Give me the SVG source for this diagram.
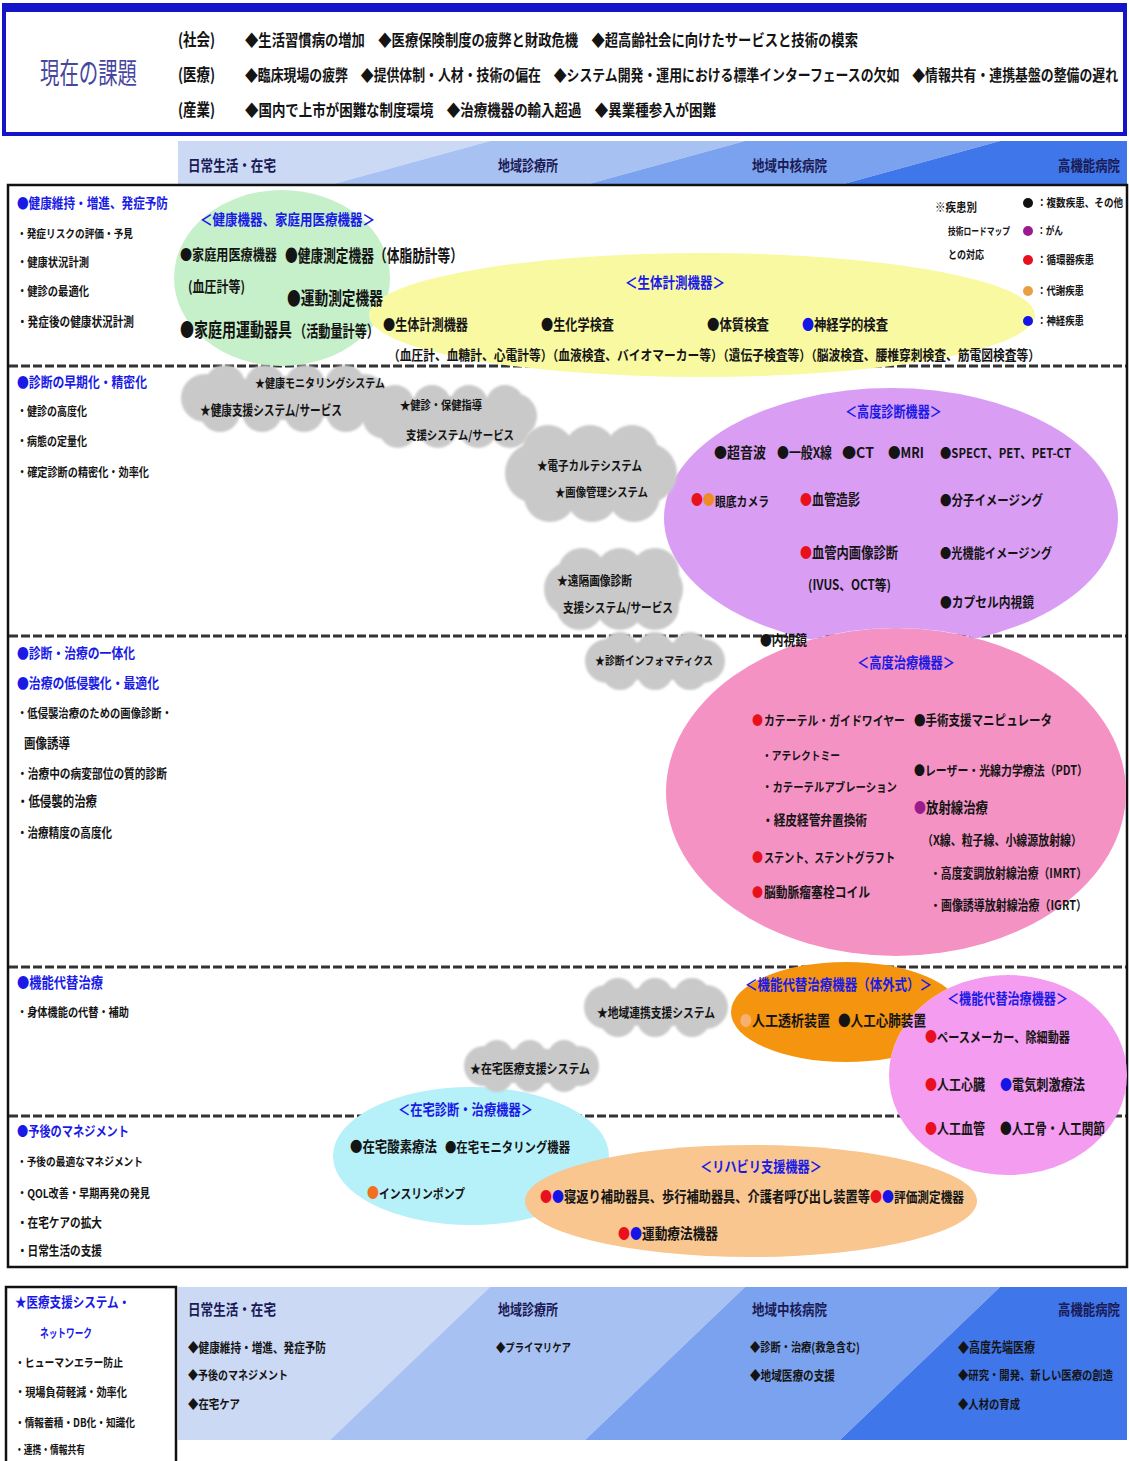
<svg xmlns="http://www.w3.org/2000/svg" width="1129" height="1461" viewBox="0 0 1129 1461">
<style>
text{font-family:"Noto Sans CJK JP","Noto Sans",sans-serif;font-weight:700;fill:#141414;transform-box:fill-box;transform-origin:50% 80%;transform:scaleY(1.2)}
.bl{fill:#1a1ae6}
.hd{fill:#1a1a55;font-size:12.5px}
.r{fill:#e8101c}
.pu{fill:#9b1b8e}
.bu{fill:#1414e6}
.or{fill:#f08c28}
.dash{stroke:#333;stroke-width:3;stroke-dasharray:9 3;fill:none}
.cloud{fill:#c9c9c9;filter:url(#soft)}
.big{transform:scaleY(1.35)}
</style>
<defs>
<filter id="soft" x="-10%" y="-10%" width="120%" height="120%"><feGaussianBlur stdDeviation="1.2"/></filter>
<clipPath id="cg"><path clip-rule="evenodd" d="M0 0H1129V1461H0Z M369 315a333 62 0 1 0 666 0a333 62 0 1 0 -666 0Z"/></clipPath>
<clipPath id="cp"><path clip-rule="evenodd" d="M0 0H1129V1461H0Z M666 792a230 164 0 1 0 460 0a230 164 0 1 0 -460 0Z"/></clipPath>
<clipPath id="co"><path clip-rule="evenodd" d="M0 0H1129V1461H0Z M889 1075a119 100 0 1 0 238 0a119 100 0 1 0 -238 0Z"/></clipPath>
</defs>
<rect width="1129" height="1461" fill="#fff"/>

<g id="issues">
<rect x="4" y="7" width="1121" height="127" fill="#fff" stroke="#1414c8" stroke-width="4"/>
<rect x="2" y="3" width="1125" height="9" fill="#1414c8"/>
<text x="40" y="84" style="font-size:19.4px;font-weight:400;fill:#4646a0;transform:scaleY(1.5)" textLength="97" lengthAdjust="spacingAndGlyphs">現在の課題</text>
<text x="178" y="46" style="font-size:13.9px" textLength="37" lengthAdjust="spacingAndGlyphs">(社会)</text>
<text x="178" y="81" style="font-size:13.9px" textLength="37" lengthAdjust="spacingAndGlyphs">(医療)</text>
<text x="178" y="116" style="font-size:13.9px" textLength="37" lengthAdjust="spacingAndGlyphs">(産業)</text>
<text x="245" y="46" style="font-size:13.3px" textLength="613" lengthAdjust="spacingAndGlyphs">◆生活習慣病の増加　◆医療保険制度の疲弊と財政危機　◆超高齢社会に向けたサービスと技術の模索</text>
<text x="245" y="81" style="font-size:12.8px" textLength="873" lengthAdjust="spacingAndGlyphs">◆臨床現場の疲弊　◆提供体制・人材・技術の偏在　◆システム開発・運用における標準インターフェースの欠如　◆情報共有・連携基盤の整備の遅れ</text>
<text x="245" y="116" style="font-size:13.3px" textLength="471" lengthAdjust="spacingAndGlyphs">◆国内で上市が困難な制度環境　◆治療機器の輸入超過　◆異業種参入が困難</text>
</g>

<g id="header-top">
<polygon points="178,141 490,141 330,185 178,185" fill="#cbd9f5"/>
<polygon points="490,141 745,141 585,185 330,185" fill="#a8c1f3"/>
<polygon points="745,141 1000,141 840,185 585,185" fill="#7ba2ef"/>
<polygon points="1000,141 1127,141 1127,185 840,185" fill="#3f76ea"/>
<text class="hd" x="188" y="171" textLength="88" lengthAdjust="spacingAndGlyphs">日常生活・在宅</text>
<text class="hd" x="498" y="171" textLength="60" lengthAdjust="spacingAndGlyphs">地域診療所</text>
<text class="hd" x="752" y="171" textLength="75" lengthAdjust="spacingAndGlyphs">地域中核病院</text>
<text class="hd" x="1058" y="171" textLength="62" lengthAdjust="spacingAndGlyphs">高機能病院</text>
</g>

<g id="frame">
<rect x="8" y="185" width="1119" height="1082" fill="#fff" stroke="#111" stroke-width="2.5"/>
<line class="dash" x1="9" y1="366" x2="1126" y2="366"/>
<line class="dash" x1="9" y1="636" x2="1126" y2="636"/>
<line class="dash" x1="9" y1="967" x2="1126" y2="967"/>
<line class="dash" x1="9" y1="1116" x2="1126" y2="1116"/>
</g>

<g id="goals">
<text class="bl" x="17" y="208" style="font-size:11.6px" textLength="151" lengthAdjust="spacingAndGlyphs">●健康維持・増進、発症予防</text>
<text x="17" y="237.5" style="font-size:9.8px" textLength="116" lengthAdjust="spacingAndGlyphs">・発症リスクの評価・予見</text>
<text x="17" y="266.5" style="font-size:10.3px" textLength="72" lengthAdjust="spacingAndGlyphs">・健康状況計測</text>
<text x="17" y="295.5" style="font-size:10.3px" textLength="72" lengthAdjust="spacingAndGlyphs">・健診の最適化</text>
<text x="17" y="325.5" style="font-size:10.6px" textLength="117" lengthAdjust="spacingAndGlyphs">・発症後の健康状況計測</text>
<text class="bl" x="17" y="387" style="font-size:11.8px" textLength="130" lengthAdjust="spacingAndGlyphs">●診断の早期化・精密化</text>
<text x="17" y="415.5" style="font-size:10px" textLength="70" lengthAdjust="spacingAndGlyphs">・健診の高度化</text>
<text x="17" y="445.5" style="font-size:10px" textLength="70" lengthAdjust="spacingAndGlyphs">・病態の定量化</text>
<text x="17" y="476.5" style="font-size:10.2px" textLength="132" lengthAdjust="spacingAndGlyphs">・確定診断の精密化・効率化</text>
<text class="bl" x="17" y="658" style="font-size:11.8px" textLength="118" lengthAdjust="spacingAndGlyphs">●診断・治療の一体化</text>
<text class="bl" x="17" y="688" style="font-size:11.8px" textLength="142" lengthAdjust="spacingAndGlyphs">●治療の低侵襲化・最適化</text>
<text x="17" y="717.5" style="font-size:10.3px" textLength="155" lengthAdjust="spacingAndGlyphs">・低侵襲治療のための画像診断・</text>
<text x="24" y="747.5" style="font-size:11px" textLength="46" lengthAdjust="spacingAndGlyphs">画像誘導</text>
<text x="17" y="777.5" style="font-size:10.7px" textLength="150" lengthAdjust="spacingAndGlyphs">・治療中の病変部位の質的診断</text>
<text x="17" y="806.5" style="font-size:11.4px" textLength="80" lengthAdjust="spacingAndGlyphs">・低侵襲的治療</text>
<text x="17" y="836.5" style="font-size:10.5px" textLength="95" lengthAdjust="spacingAndGlyphs">・治療精度の高度化</text>
<text class="bl" x="17" y="988" style="font-size:12px" textLength="86" lengthAdjust="spacingAndGlyphs">●機能代替治療</text>
<text x="17" y="1016.5" style="font-size:10.2px" textLength="112" lengthAdjust="spacingAndGlyphs">・身体機能の代替・補助</text>
<text class="bl" x="17" y="1136" style="font-size:11.2px" textLength="112" lengthAdjust="spacingAndGlyphs">●予後のマネジメント</text>
<text x="17" y="1166.5" style="font-size:9.7px" textLength="126" lengthAdjust="spacingAndGlyphs">・予後の最適なマネジメント</text>
<text x="17" y="1197.5" style="font-size:10.2px" textLength="133" lengthAdjust="spacingAndGlyphs">・QOL改善・早期再発の発見</text>
<text x="17" y="1226.5" style="font-size:10.6px" textLength="85" lengthAdjust="spacingAndGlyphs">・在宅ケアの拡大</text>
<text x="17" y="1254.5" style="font-size:10.6px" textLength="85" lengthAdjust="spacingAndGlyphs">・日常生活の支援</text>
</g>

<g id="node-bio">
<ellipse cx="702" cy="315" rx="333" ry="62" fill="#f9f9a2"/>
<text class="bl" x="625" y="288.5" style="font-size:12.5px" textLength="100" lengthAdjust="spacingAndGlyphs">＜生体計測機器＞</text>
<text x="383" y="330.5" style="font-size:12.1px" textLength="85" lengthAdjust="spacingAndGlyphs">●生体計測機器</text>
<text x="541" y="330.5" style="font-size:12.2px" textLength="73" lengthAdjust="spacingAndGlyphs">●生化学検査</text>
<text x="707" y="330.5" style="font-size:12.4px" textLength="62" lengthAdjust="spacingAndGlyphs">●体質検査</text>
<text class="bu" x="802" y="330.5" style="font-size:12.3px" textLength="12" lengthAdjust="spacingAndGlyphs">●</text>
<text x="814" y="330.5" style="font-size:12.3px" textLength="74" lengthAdjust="spacingAndGlyphs">神経学的検査</text>
<text x="388" y="360" style="font-size:11.4px" textLength="652" lengthAdjust="spacingAndGlyphs">（血圧計、血糖計、心電計等）（血液検査、バイオマーカー等）（遺伝子検査等）（脳波検査、腰椎穿刺検査、筋電図検査等）</text>
</g>

<g id="node-home-health">
<ellipse cx="282" cy="278" rx="108" ry="88" fill="#c6f0c9" clip-path="url(#cg)"/>
<text class="bl" x="200" y="225.5" style="font-size:12.5px" textLength="175" lengthAdjust="spacingAndGlyphs">＜健康機器、家庭用医療機器＞</text>
<text x="180" y="260" style="font-size:12.1px" textLength="97" lengthAdjust="spacingAndGlyphs">●家庭用医療機器</text>
<text class="big" x="285" y="261.5" style="font-size:12.7px" textLength="178" lengthAdjust="spacingAndGlyphs">●健康測定機器（体脂肪計等）</text>
<text x="188" y="292" style="font-size:12px" textLength="57" lengthAdjust="spacingAndGlyphs">(血圧計等)</text>
<text class="big" x="287" y="305.5" style="font-size:13.7px" textLength="96" lengthAdjust="spacingAndGlyphs">●運動測定機器</text>
<text class="big" x="180" y="337" style="font-size:14px" textLength="112" lengthAdjust="spacingAndGlyphs">●家庭用運動器具</text>
<text class="big" x="294" y="336.5" style="font-size:12.1px" textLength="85" lengthAdjust="spacingAndGlyphs">（活動量計等）</text>
</g>

<g id="legend">
<text x="935" y="211.5" style="font-size:10px" textLength="42" lengthAdjust="spacingAndGlyphs">※疾患別</text>
<text x="948" y="235.5" style="font-size:8.5px" textLength="62" lengthAdjust="spacingAndGlyphs">技術ロードマップ</text>
<text x="948" y="259.5" style="font-size:9.5px" textLength="36" lengthAdjust="spacingAndGlyphs">との対応</text>
<circle cx="1028" cy="203" r="5" fill="#111"/>
<circle cx="1028" cy="231" r="5" fill="#9b1b8e"/>
<circle cx="1028" cy="260" r="5" fill="#e8101c"/>
<circle cx="1028" cy="291" r="5" fill="#e8a040"/>
<circle cx="1028" cy="321" r="5" fill="#1414e6"/>
<text x="1037" y="207.5" style="font-size:9.6px" textLength="86" lengthAdjust="spacingAndGlyphs">：複数疾患、その他</text>
<text x="1037" y="235.5" style="font-size:9px" textLength="26" lengthAdjust="spacingAndGlyphs">：がん</text>
<text x="1037" y="264.5" style="font-size:9.6px" textLength="57" lengthAdjust="spacingAndGlyphs">：循環器疾患</text>
<text x="1037" y="295.5" style="font-size:9.6px" textLength="47" lengthAdjust="spacingAndGlyphs">：代謝疾患</text>
<text x="1037" y="325.5" style="font-size:9.6px" textLength="47" lengthAdjust="spacingAndGlyphs">：神経疾患</text>
</g>

<g id="node-treat">
<ellipse cx="896" cy="792" rx="230" ry="164" fill="#f592c4"/>
<text class="bl" x="857" y="668" style="font-size:12.2px" textLength="98" lengthAdjust="spacingAndGlyphs">＜高度治療機器＞</text>
<text class="r" x="752" y="725" style="font-size:11px" textLength="11" lengthAdjust="spacingAndGlyphs">●</text>
<text x="764" y="725" style="font-size:10.8px" textLength="141" lengthAdjust="spacingAndGlyphs">カテーテル・ガイドワイヤー</text>
<text x="762" y="759.5" style="font-size:9.8px" textLength="78" lengthAdjust="spacingAndGlyphs">・アテレクトミー</text>
<text x="762" y="791.5" style="font-size:10.4px" textLength="135" lengthAdjust="spacingAndGlyphs">・カテーテルアブレーション</text>
<text x="762" y="825" style="font-size:11.7px" textLength="105" lengthAdjust="spacingAndGlyphs">・経皮経管弁置換術</text>
<text class="r" x="752" y="862" style="font-size:11px" textLength="11" lengthAdjust="spacingAndGlyphs">●</text>
<text x="764" y="862" style="font-size:10.9px" textLength="131" lengthAdjust="spacingAndGlyphs">ステント、ステントグラフト</text>
<text class="r" x="752" y="897" style="font-size:11px" textLength="11" lengthAdjust="spacingAndGlyphs">●</text>
<text x="764" y="897" style="font-size:11.8px" textLength="106" lengthAdjust="spacingAndGlyphs">脳動脈瘤塞栓コイル</text>
<text x="914" y="725" style="font-size:11.5px" textLength="138" lengthAdjust="spacingAndGlyphs">●手術支援マニピュレータ</text>
<text x="914" y="775" style="font-size:10.9px" textLength="174" lengthAdjust="spacingAndGlyphs">●レーザー・光線力学療法（PDT）</text>
<text class="pu" x="914" y="813" style="font-size:12px" textLength="12" lengthAdjust="spacingAndGlyphs">●</text>
<text x="926" y="813" style="font-size:12.4px" textLength="62" lengthAdjust="spacingAndGlyphs">放射線治療</text>
<text x="922" y="845" style="font-size:11px" textLength="160" lengthAdjust="spacingAndGlyphs">（X線、粒子線、小線源放射線）</text>
<text x="930" y="878" style="font-size:11px" textLength="157" lengthAdjust="spacingAndGlyphs">・高度変調放射線治療（IMRT）</text>
<text x="930" y="910" style="font-size:11px" textLength="157" lengthAdjust="spacingAndGlyphs">・画像誘導放射線治療（IGRT）</text>
</g>

<g id="node-diag">
<ellipse cx="891" cy="518" rx="227" ry="130" fill="#d99ef4" clip-path="url(#cp)"/>
<text class="bl" x="845" y="417" style="font-size:12.1px" textLength="97" lengthAdjust="spacingAndGlyphs">＜高度診断機器＞</text>
<text x="714" y="458.5" style="font-size:12px" textLength="52" lengthAdjust="spacingAndGlyphs">●超音波</text>
<text x="777" y="458.5" style="font-size:12px" textLength="55" lengthAdjust="spacingAndGlyphs">●一般X線</text>
<text x="842" y="458.5" style="font-size:12px" textLength="32" lengthAdjust="spacingAndGlyphs">●CT</text>
<text x="888" y="458.5" style="font-size:12px" textLength="36" lengthAdjust="spacingAndGlyphs">●MRI</text>
<text x="940" y="458.5" style="font-size:11.1px" textLength="131" lengthAdjust="spacingAndGlyphs">●SPECT、PET、PET-CT</text>
<text class="r" x="691" y="505.5" style="font-size:12px" textLength="12" lengthAdjust="spacingAndGlyphs">●</text>
<text class="or" x="703" y="505.5" style="font-size:12px" textLength="12" lengthAdjust="spacingAndGlyphs">●</text>
<text x="715" y="505.5" style="font-size:10.8px" textLength="54" lengthAdjust="spacingAndGlyphs">眼底カメラ</text>
<text class="r" x="800" y="505.5" style="font-size:12px" textLength="12" lengthAdjust="spacingAndGlyphs">●</text>
<text x="812" y="505.5" style="font-size:12px" textLength="48" lengthAdjust="spacingAndGlyphs">血管造影</text>
<text x="940" y="505.5" style="font-size:11.4px" textLength="103" lengthAdjust="spacingAndGlyphs">●分子イメージング</text>
<text class="r" x="800" y="558.5" style="font-size:12px" textLength="12" lengthAdjust="spacingAndGlyphs">●</text>
<text x="812" y="558.5" style="font-size:12.3px" textLength="86" lengthAdjust="spacingAndGlyphs">血管内画像診断</text>
<text x="808" y="590" style="font-size:11.5px" textLength="83" lengthAdjust="spacingAndGlyphs">(IVUS、OCT等)</text>
<text x="940" y="558.5" style="font-size:11.2px" textLength="112" lengthAdjust="spacingAndGlyphs">●光機能イメージング</text>
<text x="940" y="607.5" style="font-size:11.7px" textLength="94" lengthAdjust="spacingAndGlyphs">●カプセル内視鏡</text>
<text x="760" y="645" style="font-size:11.7px" textLength="47" lengthAdjust="spacingAndGlyphs">●内視鏡</text>
</g>

<g id="node-implant">
<ellipse cx="1008" cy="1075" rx="119" ry="100" fill="#f49cf0"/>
<text class="bl" x="947" y="1004" style="font-size:12.1px" textLength="121" lengthAdjust="spacingAndGlyphs">＜機能代替治療機器＞</text>
<text class="r" x="925" y="1042" style="font-size:12px" textLength="12" lengthAdjust="spacingAndGlyphs">●</text>
<text x="937" y="1042" style="font-size:11.8px" textLength="133" lengthAdjust="spacingAndGlyphs">ペースメーカー、除細動器</text>
<text class="r" x="925" y="1090" style="font-size:12px" textLength="12" lengthAdjust="spacingAndGlyphs">●</text>
<text x="937" y="1090" style="font-size:12px" textLength="48" lengthAdjust="spacingAndGlyphs">人工心臓</text>
<text class="bu" x="1000" y="1090" style="font-size:12px" textLength="12" lengthAdjust="spacingAndGlyphs">●</text>
<text x="1012" y="1090" style="font-size:12.2px" textLength="73" lengthAdjust="spacingAndGlyphs">電気刺激療法</text>
<text class="r" x="925" y="1134" style="font-size:12px" textLength="12" lengthAdjust="spacingAndGlyphs">●</text>
<text x="937" y="1134" style="font-size:12px" textLength="48" lengthAdjust="spacingAndGlyphs">人工血管</text>
<text x="1000" y="1134" style="font-size:12.5px" textLength="105" lengthAdjust="spacingAndGlyphs">●人工骨・人工関節</text>
</g>

<g id="node-external">
<ellipse cx="846" cy="1012" rx="115" ry="50" fill="#f5950f" clip-path="url(#co)"/>
<text class="bl" x="745" y="990.5" style="font-size:12.5px" textLength="187" lengthAdjust="spacingAndGlyphs">＜機能代替治療機器（体外式）＞</text>
<text x="740" y="1026.5" style="font-size:12px;fill:#f8b070" textLength="12" lengthAdjust="spacingAndGlyphs">●</text>
<text x="752" y="1026.5" style="font-size:12.5px" textLength="78" lengthAdjust="spacingAndGlyphs">人工透析装置</text>
<text x="838" y="1026.5" style="font-size:12.6px" textLength="88" lengthAdjust="spacingAndGlyphs">●人工心肺装置</text>
</g>

<g id="node-home-care">
<ellipse cx="471" cy="1156" rx="138" ry="69" fill="#b6f0f8"/>
<text class="bl" x="398" y="1115" style="font-size:12.3px" textLength="135" lengthAdjust="spacingAndGlyphs">＜在宅診断・治療機器＞</text>
<text x="350" y="1152.5" style="font-size:12.4px" textLength="87" lengthAdjust="spacingAndGlyphs">●在宅酸素療法</text>
<text x="445" y="1152.5" style="font-size:11.4px" textLength="125" lengthAdjust="spacingAndGlyphs">●在宅モニタリング機器</text>
<text x="367" y="1198" style="font-size:12px;fill:#f07020" textLength="12" lengthAdjust="spacingAndGlyphs">●</text>
<text x="379" y="1198" style="font-size:10.8px" textLength="86" lengthAdjust="spacingAndGlyphs">インスリンポンプ</text>
</g>

<g id="node-rehab">
<ellipse cx="751" cy="1201" rx="226" ry="56" fill="#f8c68e"/>
<text class="bl" x="700" y="1172" style="font-size:12.2px" textLength="122" lengthAdjust="spacingAndGlyphs">＜リハビリ支援機器＞</text>
<text class="r" x="540" y="1202" style="font-size:12px" textLength="12" lengthAdjust="spacingAndGlyphs">●</text>
<text class="bu" x="552" y="1202" style="font-size:12px" textLength="12" lengthAdjust="spacingAndGlyphs">●</text>
<text x="564" y="1202" style="font-size:12.2px" textLength="306" lengthAdjust="spacingAndGlyphs">寝返り補助器具、歩行補助器具、介護者呼び出し装置等</text>
<text class="r" x="870" y="1202" style="font-size:12px" textLength="12" lengthAdjust="spacingAndGlyphs">●</text>
<text class="bu" x="882" y="1202" style="font-size:12px" textLength="12" lengthAdjust="spacingAndGlyphs">●</text>
<text x="894" y="1202" style="font-size:11.7px" textLength="70" lengthAdjust="spacingAndGlyphs">評価測定機器</text>
<text class="r" x="618" y="1239.5" style="font-size:12px" textLength="12" lengthAdjust="spacingAndGlyphs">●</text>
<text class="bu" x="630" y="1239.5" style="font-size:12px" textLength="12" lengthAdjust="spacingAndGlyphs">●</text>
<text x="642" y="1239.5" style="font-size:12.6px" textLength="76" lengthAdjust="spacingAndGlyphs">運動療法機器</text>
</g>

<g id="cloud-health-monitoring">
<g class="cloud">
<ellipse cx="284" cy="398" rx="85" ry="22"/>
<circle cx="225" cy="385" r="20"/><circle cx="265" cy="385" r="20"/><circle cx="305" cy="385" r="20"/><circle cx="345" cy="385" r="20"/>
<circle cx="220" cy="412" r="20"/><circle cx="262" cy="412" r="20"/><circle cx="304" cy="412" r="20"/><circle cx="346" cy="412" r="20"/>
<circle cx="205" cy="398" r="24"/><circle cx="364" cy="398" r="24"/>
</g>
<text x="255" y="387.5" style="font-size:10px" textLength="130" lengthAdjust="spacingAndGlyphs">★健康モニタリングシステム</text>
<text x="200" y="415" style="font-size:11px" textLength="142" lengthAdjust="spacingAndGlyphs">★健康支援システム/サービス</text>
</g>

<g id="cloud-checkup">
<g class="cloud">
<ellipse cx="450" cy="416" rx="75" ry="20"/>
<circle cx="395" cy="404" r="19"/><circle cx="432" cy="404" r="19"/><circle cx="469" cy="404" r="19"/><circle cx="505" cy="404" r="19"/>
<circle cx="398" cy="429" r="19"/><circle cx="438" cy="429" r="19"/><circle cx="478" cy="429" r="19"/><circle cx="510" cy="429" r="19"/>
<circle cx="385" cy="416" r="23"/><circle cx="514" cy="416" r="23"/>
</g>
<text x="400" y="409.5" style="font-size:10.2px" textLength="82" lengthAdjust="spacingAndGlyphs">★健診・保健指導</text>
<text x="406" y="439.5" style="font-size:10.3px" textLength="108" lengthAdjust="spacingAndGlyphs">支援システム/サービス</text>
</g>

<g id="cloud-emr">
<g class="cloud">
<ellipse cx="591" cy="473" rx="70" ry="35"/>
<circle cx="548" cy="451" r="26"/><circle cx="590" cy="451" r="26"/><circle cx="632" cy="451" r="26"/>
<circle cx="550" cy="496" r="26"/><circle cx="592" cy="496" r="26"/><circle cx="634" cy="496" r="26"/>
<circle cx="535" cy="473" r="30"/><circle cx="647" cy="473" r="30"/>
</g>
<text x="537" y="469.5" style="font-size:10.5px" textLength="105" lengthAdjust="spacingAndGlyphs">★電子カルテシステム</text>
<text x="555" y="496.5" style="font-size:10.3px" textLength="93" lengthAdjust="spacingAndGlyphs">★画像管理システム</text>
</g>

<g id="cloud-remote">
<g class="cloud">
<ellipse cx="613" cy="589" rx="60" ry="30"/>
<circle cx="582" cy="572" r="24"/><circle cx="620" cy="572" r="24"/><circle cx="655" cy="572" r="24"/>
<circle cx="580" cy="606" r="24"/><circle cx="620" cy="606" r="24"/><circle cx="655" cy="606" r="24"/>
<circle cx="572" cy="589" r="28"/><circle cx="655" cy="589" r="28"/>
</g>
<text x="557" y="584.5" style="font-size:10.7px" textLength="75" lengthAdjust="spacingAndGlyphs">★遠隔画像診断</text>
<text x="563" y="611.5" style="font-size:10.5px" textLength="110" lengthAdjust="spacingAndGlyphs">支援システム/サービス</text>
</g>

<g id="cloud-informatics">
<g class="cloud">
<ellipse cx="655" cy="661" rx="55" ry="20"/>
<circle cx="620" cy="650" r="18"/><circle cx="655" cy="650" r="18"/><circle cx="690" cy="650" r="18"/>
<circle cx="620" cy="672" r="18"/><circle cx="655" cy="672" r="18"/><circle cx="690" cy="672" r="18"/>
<circle cx="607" cy="661" r="22"/><circle cx="703" cy="661" r="22"/>
</g>
<text x="595" y="664.5" style="font-size:9.8px" textLength="118" lengthAdjust="spacingAndGlyphs">★診断インフォマティクス</text>
</g>

<g id="cloud-regional">
<g class="cloud">
<ellipse cx="656" cy="1007" rx="55" ry="20"/>
<circle cx="618" cy="996" r="18"/><circle cx="655" cy="996" r="18"/><circle cx="692" cy="996" r="18"/>
<circle cx="618" cy="1019" r="18"/><circle cx="655" cy="1019" r="18"/><circle cx="692" cy="1019" r="18"/>
<circle cx="606" cy="1007" r="22"/><circle cx="706" cy="1007" r="22"/>
</g>
<text x="597" y="1016.5" style="font-size:10.7px" textLength="118" lengthAdjust="spacingAndGlyphs">★地域連携支援システム</text>
</g>

<g id="cloud-homecare">
<g class="cloud">
<ellipse cx="531" cy="1066" rx="52" ry="18"/>
<circle cx="497" cy="1056" r="16"/><circle cx="530" cy="1056" r="16"/><circle cx="564" cy="1056" r="16"/>
<circle cx="497" cy="1076" r="16"/><circle cx="530" cy="1076" r="16"/><circle cx="564" cy="1076" r="16"/>
<circle cx="484" cy="1066" r="20"/><circle cx="579" cy="1066" r="20"/>
</g>
<text x="470" y="1072.5" style="font-size:10.9px" textLength="120" lengthAdjust="spacingAndGlyphs">★在宅医療支援システム</text>
</g>

<g id="support-system">
<rect x="6" y="1287" width="170" height="185" fill="#fff" stroke="#111" stroke-width="2.5"/>
<text class="bl" x="15" y="1307" style="font-size:11.5px" textLength="115" lengthAdjust="spacingAndGlyphs">★医療支援システム・</text>
<text class="bl" x="40" y="1337.5" style="font-size:10px" textLength="52" lengthAdjust="spacingAndGlyphs">ネットワーク</text>
<text x="15" y="1366.5" style="font-size:9.8px" textLength="108" lengthAdjust="spacingAndGlyphs">・ヒューマンエラー防止</text>
<text x="15" y="1396.5" style="font-size:10.2px" textLength="112" lengthAdjust="spacingAndGlyphs">・現場負荷軽減・効率化</text>
<text x="15" y="1426.5" style="font-size:9.8px" textLength="120" lengthAdjust="spacingAndGlyphs">・情報蓄積・DB化・知識化</text>
<text x="15" y="1454" style="font-size:9.5px" textLength="70" lengthAdjust="spacingAndGlyphs">・連携・情報共有</text>
</g>

<g id="header-bottom">
<polygon points="178,1287 490,1287 330,1440 178,1440" fill="#cbd9f5"/>
<polygon points="490,1287 745,1287 585,1440 330,1440" fill="#a8c1f3"/>
<polygon points="745,1287 1000,1287 840,1440 585,1440" fill="#7ba2ef"/>
<polygon points="1000,1287 1127,1287 1127,1440 840,1440" fill="#3f76ea"/>
<text class="hd" x="188" y="1315.5" textLength="88" lengthAdjust="spacingAndGlyphs">日常生活・在宅</text>
<text x="188" y="1351.5" style="font-size:10.6px" textLength="138" lengthAdjust="spacingAndGlyphs">◆健康維持・増進、発症予防</text>
<text x="188" y="1379.5" style="font-size:10px" textLength="100" lengthAdjust="spacingAndGlyphs">◆予後のマネジメント</text>
<text x="188" y="1408.5" style="font-size:10.4px" textLength="52" lengthAdjust="spacingAndGlyphs">◆在宅ケア</text>
<text class="hd" x="498" y="1315.5" textLength="60" lengthAdjust="spacingAndGlyphs">地域診療所</text>
<text x="496" y="1351.5" style="font-size:9.8px" textLength="75" lengthAdjust="spacingAndGlyphs">◆プライマリケア</text>
<text class="hd" x="752" y="1315.5" textLength="75" lengthAdjust="spacingAndGlyphs">地域中核病院</text>
<text x="750" y="1351.5" style="font-size:10.3px" textLength="110" lengthAdjust="spacingAndGlyphs">◆診断・治療(救急含む)</text>
<text x="750" y="1379.5" style="font-size:10.6px" textLength="85" lengthAdjust="spacingAndGlyphs">◆地域医療の支援</text>
<text class="hd" x="1058" y="1315.5" textLength="62" lengthAdjust="spacingAndGlyphs">高機能病院</text>
<text x="958" y="1351.5" style="font-size:11px" textLength="77" lengthAdjust="spacingAndGlyphs">◆高度先端医療</text>
<text x="958" y="1379.5" style="font-size:10.3px" textLength="155" lengthAdjust="spacingAndGlyphs">◆研究・開発、新しい医療の創造</text>
<text x="958" y="1408.5" style="font-size:10.3px" textLength="62" lengthAdjust="spacingAndGlyphs">◆人材の育成</text>
</g>

<g id="connectors"/>
</svg>
